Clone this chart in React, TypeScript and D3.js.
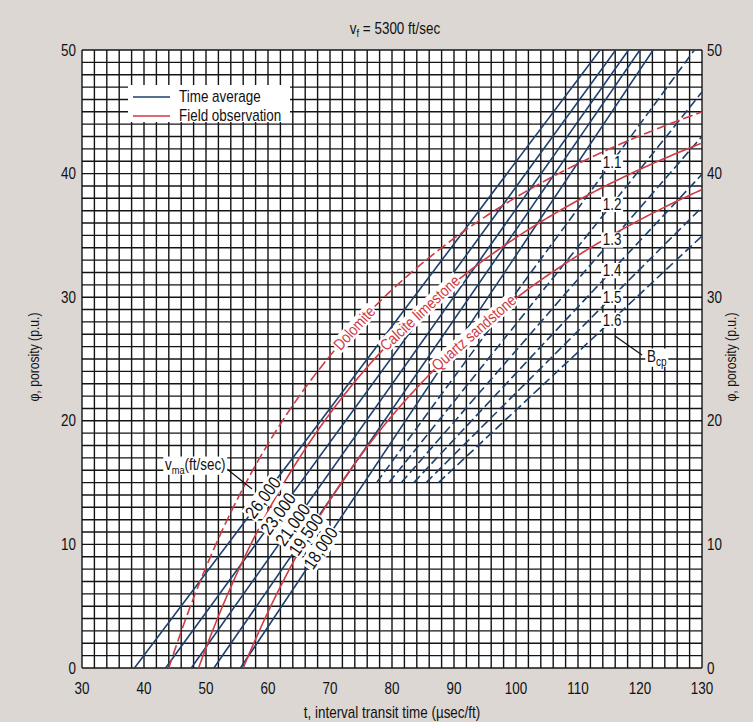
import React, { useEffect, useRef } from 'react';
import * as d3 from 'd3';

const W = 753;
const H = 722;
const fluidVelocity = 5300;
const matrixVelocities = [26000, 23000, 21000, 19500, 18000];
const matrixLabels = ['26,000', '23,000', '21,000', '19,500', '18,000'];
const matrixLabelPorosity = [13.8, 12.5, 11.6, 10.8, 9.7];
const compactionFactors = [1.1, 1.2, 1.3, 1.4, 1.5, 1.6];
const compactionLabels = ['1.1', '1.2', '1.3', '1.4', '1.5', '1.6'];
const compactionBaseVelocity = 18000;
const compactionStartPorosity = 15;
const compactionLabelT = 115.5;
const fieldNames = ['Dolomite', 'Calcite limestone', 'Quartz sandstone'];
const fieldTma = [44, 48.8, 56];
const fieldC = 0.68;
const fieldLabelT = [73.9, 84.5, 93.2];
const fieldDashed = [true, false, false];
const xTicks = [30, 40, 50, 60, 70, 80, 90, 100, 110, 120, 130];
const yTicks = [0, 10, 20, 30, 40, 50];

const BLUE = '#1d406e';
const RED = '#cf3b45';
const BG = '#dcd7d3';
const FONT = "'Liberation Sans', Arial, sans-serif";
const SX = 0.84;

export default function App() {
  const ref = useRef<SVGSVGElement>(null);
  useEffect(() => {
    const svg = d3.select(ref.current);
    svg.selectAll('*').remove();
    const x = d3.scaleLinear().domain([30, 130]).range([82, 702]);
    const y = d3.scaleLinear().domain([0, 50]).range([668, 50]);
    const tf = 1e6 / fluidVelocity;

    svg.append('rect').attr('width', W).attr('height', H).attr('fill', BG);
    svg.append('rect').attr('x', x(30)).attr('y', y(50)).attr('width', x(130) - x(30)).attr('height', y(0) - y(50)).attr('fill', '#fff');

    const defs = svg.append('defs');
    defs.append('clipPath').attr('id', 'plotclip').append('rect')
      .attr('x', x(30)).attr('y', y(50)).attr('width', x(130) - x(30)).attr('height', y(0) - y(50));

    // grid
    const grid = svg.append('g').attr('stroke', '#141414').attr('stroke-width', 1.4);
    d3.range(30, 131, 2).forEach((t) => {
      grid.append('line').attr('x1', x(t)).attr('x2', x(t)).attr('y1', y(0)).attr('y2', y(50));
    });
    d3.range(0, 51, 1).forEach((p) => {
      grid.append('line').attr('x1', x(30)).attr('x2', x(130)).attr('y1', y(p)).attr('y2', y(p));
    });

    const plot = svg.append('g').attr('clip-path', 'url(#plotclip)');
    const line = d3.line<[number, number]>().x((d) => x(d[0])).y((d) => y(d[1]));

    // time average lines
    matrixVelocities.forEach((v) => {
      const tma = 1e6 / v;
      const pts: [number, number][] = [tma, 130].map((t) => [t, (100 * (t - tma)) / (tf - tma)]);
      plot.append('path').attr('d', line(pts)).attr('fill', 'none').attr('stroke', BLUE).attr('stroke-width', 1.6);
    });

    // compaction lines
    const tmaC = 1e6 / compactionBaseVelocity;
    compactionFactors.forEach((b) => {
      const t0 = tmaC + (compactionStartPorosity / 100) * b * (tf - tmaC);
      const pts: [number, number][] = [t0, 140].map((t) => [t, (100 * (t - tmaC)) / (tf - tmaC) / b]);
      plot.append('path').attr('d', line(pts)).attr('fill', 'none').attr('stroke', BLUE)
        .attr('stroke-width', 1.6).attr('stroke-dasharray', '9 4');
    });

    // field observation curves
    fieldTma.forEach((tma, i) => {
      const pts: [number, number][] = d3.range(tma, 130.01, 0.5).map((t) => [t, 100 * fieldC * (t - tma) / t]);
      plot.append('path').attr('d', line(pts)).attr('fill', 'none').attr('stroke', RED)
        .attr('stroke-width', 1.6).attr('stroke-dasharray', fieldDashed[i] ? '10 4' : null);
    });

    const T = (parent: any, px: number, py: number, opts: { size?: number; anchor?: string; rot?: number; fill?: string } = {}) => {
      const g = parent.append('g').attr('transform', `translate(${px},${py}) rotate(${opts.rot || 0}) scale(${SX},1)`);
      const tx = g.append('text').attr('dy', '0.35em').attr('text-anchor', opts.anchor || 'middle')
        .attr('font-family', FONT).attr('font-size', opts.size || 16).attr('fill', opts.fill || '#111');
      return { g, tx };
    };
    const labelBox = (g: any, text: any, pad = 2) => {
      const bb = (text.node() as SVGTextElement).getBBox();
      g.insert('rect', 'text').attr('x', bb.x - pad).attr('y', bb.y + 1).attr('width', bb.width + 2 * pad)
        .attr('height', bb.height - 2).attr('fill', '#fff');
    };

    // matrix velocity labels
    matrixVelocities.forEach((v, i) => {
      const tma = 1e6 / v;
      const p = matrixLabelPorosity[i];
      const t = tma + (p / 100) * (tf - tma);
      const ang = (Math.atan2(y(p) - y(p + 1), x(t + (tf - tma) / 100) - x(t)) * 180) / Math.PI;
      const { g, tx } = T(svg, x(t), y(p), { size: 18, rot: -ang });
      tx.text(matrixLabels[i]);
      labelBox(g, tx, 1);
    });

    // field labels
    fieldTma.forEach((tma, i) => {
      const t = fieldLabelT[i];
      const f = (tt: number) => 100 * fieldC * (tt - tma) / tt;
      const dx = x(t + 0.5) - x(t - 0.5);
      const dy = y(f(t + 0.5)) - y(f(t - 0.5));
      const ang = (Math.atan2(dy, dx) * 180) / Math.PI;
      const { g, tx } = T(svg, x(t), y(f(t)), { size: 16, rot: ang, fill: RED });
      tx.text(fieldNames[i]);
      labelBox(g, tx, 1);
    });

    // compaction labels
    compactionFactors.forEach((b, i) => {
      const p = (100 * (compactionLabelT - tmaC)) / (tf - tmaC) / b;
      const { g, tx } = T(svg, x(compactionLabelT), y(p), { size: 16 });
      tx.text(compactionLabels[i]);
      labelBox(g, tx, 2);
    });

    // Bcp label
    svg.append('line').attr('x1', 615).attr('y1', 336).attr('x2', 642).attr('y2', 355).attr('stroke', '#111').attr('stroke-width', 1.2);
    {
      const { g, tx } = T(svg, 647, 356, { size: 16, anchor: 'start' });
      tx.append('tspan').text('B');
      tx.append('tspan').attr('font-size', 12).attr('dy', 4).text('cp');
      labelBox(g, tx, 2);
    }

    // vma label
    svg.append('line').attr('x1', 227).attr('y1', 469).attr('x2', 252).attr('y2', 489).attr('stroke', '#111').attr('stroke-width', 1.2);
    {
      const { g, tx } = T(svg, 165, 464, { size: 16, anchor: 'start' });
      tx.append('tspan').text('v');
      tx.append('tspan').attr('font-size', 11).attr('dy', 4).text('ma');
      tx.append('tspan').attr('dy', -4).text('(ft/sec)');
      labelBox(g, tx, 2);
    }

    // legend
    const lg = svg.append('g');
    lg.append('rect').attr('x', 128).attr('y', 85).attr('width', 162).attr('height', 37).attr('fill', '#fff');
    lg.append('line').attr('x1', 133).attr('x2', 170).attr('y1', 97).attr('y2', 97).attr('stroke', BLUE).attr('stroke-width', 1.6);
    lg.append('line').attr('x1', 133).attr('x2', 170).attr('y1', 116).attr('y2', 116).attr('stroke', RED).attr('stroke-width', 1.6);
    T(lg, 179, 96, { size: 16, anchor: 'start' }).tx.text('Time average');
    T(lg, 179, 115, { size: 16, anchor: 'start' }).tx.text('Field observation');

    // axes labels
    xTicks.forEach((t) => {
      T(svg, x(t), 688, { size: 16 }).tx.text(t);
    });
    yTicks.forEach((p) => {
      T(svg, 76, y(p), { size: 16, anchor: 'end' }).tx.text(p);
      T(svg, 707, y(p), { size: 16, anchor: 'start' }).tx.text(p);
    });
    T(svg, 392, 712, { size: 16 }).tx.text('t, interval transit time (µsec/ft)');
    T(svg, 34, 357, { size: 14.5, rot: -90 }).tx.text('φ, porosity (p.u.)');
    T(svg, 731, 357, { size: 14.5, rot: -90 }).tx.text('φ, porosity (p.u.)');
    const title = T(svg, 395, 28, { size: 16 }).tx;
    title.append('tspan').text('v');
    title.append('tspan').attr('font-size', 11).attr('dy', 3).text('f');
    title.append('tspan').attr('dy', -3).text(' = 5300 ft/sec');
  }, []);
  return (
    <svg ref={ref} width={W} height={H} style={{ position: 'absolute', left: 0, top: 0, display: 'block' }} />
  );
}
